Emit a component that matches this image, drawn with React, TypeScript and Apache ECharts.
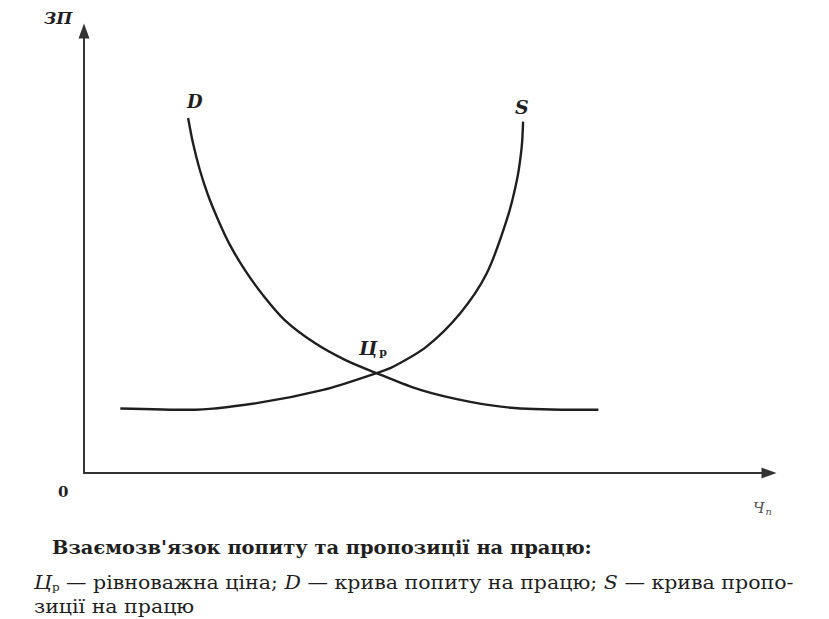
import React, { useEffect, useRef } from "react";
import * as echarts from "echarts";

// Demand curve D (x: labour quantity, y: wage)
const demandX = [15.2, 15.9, 16.9, 18.1, 19.6, 21.3, 23.5, 26.1, 29.3, 33.7, 38.1, 42.7, 49.1, 56.4, 63.7, 75.1];
const demandY = [80.3, 74.7, 68.6, 62.9, 57.2, 51.6, 45.9, 40.3, 34.6, 29.4, 25.6, 22.6, 18.8, 16.1, 14.6, 14.3];
// Supply curve S
const supplyX = [5.3, 15.5, 25.2, 34.9, 42.7, 45.2, 50.0, 54.9, 58.8, 61.7, 63.2, 63.9, 64.1];
const supplyY = [14.6, 14.3, 15.8, 18.8, 22.6, 24.1, 28.6, 36.1, 45.2, 57.2, 66.3, 73.8, 79.5];

const axisNameY = "ЗП";
const originLabel = "0";
const captionTitle = "Взаємозв'язок попиту та пропозиції на працю:";
const captionLine3 = "зиції на працю";

const INK = "#1f1f1f";
const SERIF = "'DejaVu Serif', 'Liberation Serif', serif";

export default function App() {
  const ref = useRef<HTMLDivElement>(null);
  useEffect(() => {
    if (!ref.current) return;
    const chart = echarts.init(ref.current, null, { renderer: "svg" });
    const pairs = (xs: number[], ys: number[]) => xs.map((x, i) => [x, ys[i]]);
    const axisCommon = {
      type: "value" as const,
      min: 0,
      max: 100,
      axisLine: {
        show: true,
        lineStyle: { color: "#333", width: 2 },
        symbol: ["none", "triangle"],
        symbolSize: [11, 15],
      },
      axisTick: { show: false },
      axisLabel: { show: false },
      splitLine: { show: false },
    };
    const curve = {
      type: "line" as const,
      smooth: 0.3,
      showSymbol: false,
      lineStyle: { color: INK, width: 2.4 },
    };
    chart.setOption({
      animation: false,
      backgroundColor: "#ffffff",
      grid: { left: 84, right: 60, top: 31, bottom: 146 },
      xAxis: { ...axisCommon },
      yAxis: { ...axisCommon },
      series: [
        { ...curve, name: "D", data: pairs(demandX, demandY) },
        { ...curve, name: "S", data: pairs(supplyX, supplyY) },
      ],
      graphic: [
        {
          type: "text",
          x: 44,
          y: 18,
          style: { text: axisNameY, font: `italic bold 17px ${SERIF}`, fill: INK, verticalAlign: "middle" },
        },
        {
          type: "text",
          x: 187,
          y: 101,
          style: { text: "D", font: `italic bold 18px ${SERIF}`, fill: INK, verticalAlign: "middle" },
        },
        {
          type: "text",
          x: 515,
          y: 107,
          style: { text: "S", font: `italic bold 19px ${SERIF}`, fill: INK, verticalAlign: "middle" },
        },
        {
          type: "text",
          x: 359,
          y: 338,
          style: {
            text: "{m|Ц}{s|р}",
            rich: {
              m: { font: `italic bold 19px ${SERIF}`, fill: INK },
              s: { font: `bold 11px ${SERIF}`, fill: INK, padding: [9, 0, 0, 2] },
            },
          },
        },
        {
          type: "text",
          x: 58,
          y: 492,
          style: { text: originLabel, font: `bold 15px ${SERIF}`, fill: INK, verticalAlign: "middle" },
        },
        {
          type: "text",
          x: 753,
          y: 500,
          style: {
            text: "{m|Ч}{s|п}",
            rich: {
              m: { font: `italic 15px ${SERIF}`, fill: "#555" },
              s: { font: `italic 10px ${SERIF}`, fill: "#555", padding: [6, 0, 0, 1] },
            },
          },
        },
        {
          type: "text",
          x: 52,
          y: 547,
          scaleX: 1.08,
          style: { text: captionTitle, font: `bold 18px ${SERIF}`, fill: INK, verticalAlign: "middle" },
        },
        {
          type: "text",
          x: 34,
          y: 583,
          scaleX: 1.08,
          style: {
            text:
              "{i|Ц}{s|р}{n| — рівноважна ціна; }{i|D}{n| — крива попиту на працю; }{i|S}{n| — крива пропо-}",
            verticalAlign: "middle",
            rich: {
              i: { font: `italic 19px ${SERIF}`, fill: INK },
              s: { font: `11px ${SERIF}`, fill: INK, padding: [8, 0, 0, 0] },
              n: { font: `19px ${SERIF}`, fill: INK },
            },
          },
        },
        {
          type: "text",
          x: 34,
          y: 607,
          scaleX: 1.08,
          style: { text: captionLine3, font: `19px ${SERIF}`, fill: INK, verticalAlign: "middle" },
        },
      ],
    });
    return () => chart.dispose();
  }, []);
  return (
    <div
      ref={ref}
      style={{ position: "fixed", left: 0, top: 0, width: 829, height: 619, background: "#fff" }}
    />
  );
}
